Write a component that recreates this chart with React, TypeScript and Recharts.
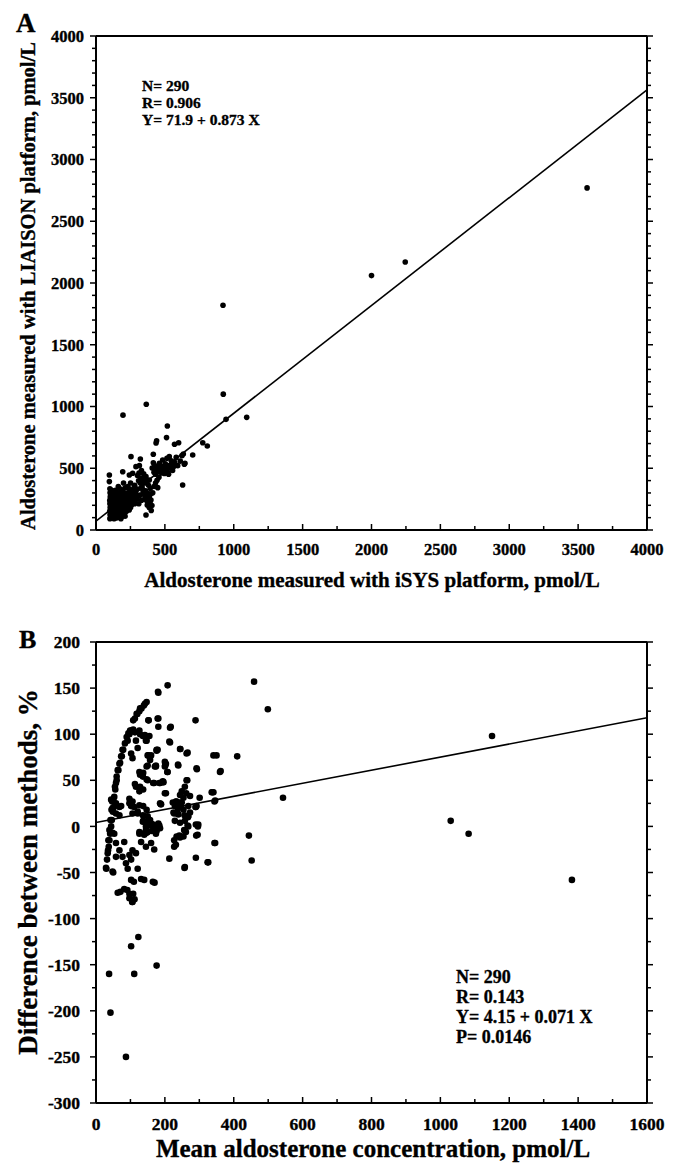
import React from 'react';
import { ScatterChart, Scatter, XAxis, YAxis, ReferenceLine } from 'recharts';

const FONT = '"Liberation Serif", "Times New Roman", serif';

// Panel A: aldosterone by iSYS (x) vs LIAISON (y), pmol/L
const isysVsLiaison: [number, number][] = [
  [3565, 2770], [2245, 2170], [2000, 2060], [922, 1820], [924, 1100], [944, 896], [1094, 912], [196, 930], [365, 1018],
  [518, 842], [512, 748], [440, 723], [436, 705], [600, 707], [570, 694], [775, 707], [808, 680], [702, 607], [634, 615],
  [646, 540], [624, 602], [641, 532], [629, 364], [363, 121], [254, 594], [416, 613], [515, 580], [532, 594], [484, 567],
  [460, 540], [416, 545], [322, 575], [315, 521], [290, 513], [97, 445], [97, 392], [194, 472], [242, 445], [266, 459],
  [363, 432], [387, 405], [448, 343], [387, 270], [399, 243], [121, 108], [182, 108],
  [330, 482], [346, 455], [358, 428], [372, 396], [381, 362], [394, 338], [408, 502], [421, 468], [426, 521], [433, 452],
  [441, 488], [447, 512], [452, 474], [457, 428], [466, 503], [472, 518], [476, 462], [483, 492], [491, 509], [497, 458],
  [503, 536], [507, 478], [512, 501], [521, 468], [527, 452], [533, 522], [541, 503], [546, 561], [552, 538], [556, 482],
  [563, 512], [571, 549], [582, 588], [593, 521], [612, 558], [301, 441], [309, 398], [322, 381], [334, 352], [342, 302],
  [351, 288], [356, 262], [367, 238], [372, 203], [386, 182], [392, 221], [401, 158], [406, 198], [412, 301], [421, 352],
  [432, 381], [443, 402], [302, 331], [288, 298], [281, 362], [271, 318], [286, 268], [299, 252], [311, 212], [319, 282],
  [331, 241], [339, 328], [352, 381], [361, 318], [376, 298], [382, 262], [396, 291], [344, 412], [312, 462], [326, 421],
  [101, 92], [102, 124], [100, 151], [103, 183], [101, 212], [100, 238], [104, 271], [102, 302], [101, 334], [106, 101],
  [107, 137], [105, 166], [108, 197], [106, 226], [105, 257], [107, 288], [111, 112], [112, 141], [110, 172], [113, 203],
  [111, 231], [112, 262], [110, 293], [114, 322], [116, 96], [117, 127], [115, 158], [118, 186], [116, 217], [117, 247],
  [115, 277], [121, 103], [122, 131], [120, 162], [123, 192], [121, 221], [122, 252], [126, 117], [127, 146], [125, 177],
  [128, 207], [126, 236], [127, 266], [125, 297], [131, 91], [132, 122], [130, 152], [133, 181], [131, 212], [132, 242],
  [136, 107], [137, 136], [135, 167], [138, 196], [136, 227], [137, 256], [141, 117], [142, 147], [140, 176], [143, 206],
  [141, 281], [142, 321], [146, 97], [147, 126], [145, 157], [148, 186], [146, 216], [147, 247], [151, 111], [152, 142],
  [150, 171], [153, 201], [151, 232], [152, 261], [150, 302], [156, 121], [157, 152], [155, 181], [158, 212], [156, 241],
  [161, 132], [162, 161], [160, 191], [163, 222], [161, 251], [162, 352], [166, 102], [167, 146], [165, 177], [168, 206],
  [166, 237], [167, 272], [171, 122], [172, 156], [170, 186], [173, 217], [171, 246], [172, 302], [176, 141], [177, 172],
  [175, 201], [178, 232], [176, 262], [177, 331], [181, 92], [182, 151], [180, 182], [183, 211], [181, 242], [182, 281],
  [186, 131], [187, 166], [185, 196], [188, 226], [186, 257], [191, 112], [192, 146], [190, 177], [193, 206], [191, 237],
  [192, 271], [190, 322], [196, 161], [197, 191], [195, 222], [198, 252], [201, 131], [202, 171], [200, 201], [203, 232],
  [201, 262], [202, 302], [200, 381], [206, 151], [207, 186], [205, 216], [208, 246], [211, 112], [212, 171], [210, 202],
  [213, 231], [211, 272], [212, 341], [216, 191], [217, 222], [215, 251], [221, 152], [222, 181], [220, 212], [223, 241],
  [221, 291], [226, 201], [227, 232], [225, 262], [231, 172], [232, 216], [230, 247], [233, 281], [231, 352], [236, 191],
  [237, 232], [235, 302], [241, 162], [242, 211], [240, 252], [243, 331], [246, 241], [247, 271], [251, 181], [252, 222],
  [250, 262], [253, 302], [251, 381], [256, 202], [257, 281], [261, 242], [262, 322], [266, 212], [267, 262], [271, 232],
  [272, 291], [276, 252], [277, 341], [281, 212], [282, 282], [286, 242], [291, 322], [296, 272],
];

// Panel B: mean of both methods (x, pmol/L) vs difference between methods (y, %)
const meanVsDiff: [number, number][] = [
  [29, -45], [32, -36], [35, -26], [36, -15], [39, -4], [42, 7], [45, 18], [50, 29], [55, 43], [60, 50], [65, 61],
  [70, 69], [75, 76], [79, 83], [84, 90], [89, 97], [94, 101], [101, 103], [108, 105], [113, 117], [120, 122], [126, 125],
  [132, 128], [139, 131], [147, 135], [50, -50],
  [208, 153], [181, 145], [153, 115], [179, 117], [181, 108], [102, 104], [97, 100], [92, 93], [126, 104], [136, 98],
  [145, 93], [155, 98], [213, 92], [116, 93], [121, 85], [77, 83], [73, 76], [68, 68], [63, 61], [60, 54], [58, 47],
  [56, 40], [53, 32], [102, 79], [106, 74], [150, 77], [160, 77], [179, 83], [174, 65], [150, 66], [203, 68], [208, 59],
  [126, 59], [136, 54], [150, 50], [169, 47], [184, 47], [194, 49], [116, 43], [126, 38], [203, 36], [97, 30], [106, 27],
  [102, 22], [58, 25], [73, 22], [58, 14], [44, 29], [48, 20], [46, 7], [189, 24], [223, 26], [121, 14], [136, 12],
  [145, 5], [155, 1], [145, -4], [169, -1], [126, -6], [140, -9], [44, 0], [48, -7],
  [47, 27], [52, 21], [49, 16], [41, -8], [39, -15], [37, -22], [34, -29], [30, -46], [48, -49], [68, 21], [68, 12],
  [97, 25], [111, 21], [126, 23], [106, 14], [121, 16], [232, 27], [247, 21], [237, 14], [257, 12], [290, 21], [344, 27],
  [136, 5], [150, 11], [145, 0], [160, 3], [184, 1], [126, -8], [150, -6], [174, -8], [82, -17], [106, -26], [116, -29],
  [131, -17], [145, -22], [160, -18], [169, -25], [53, -8], [58, -18], [68, -26], [77, -33], [58, -33], [97, -31],
  [87, -40], [92, -46], [102, -36], [121, -46], [102, -58], [131, -57], [165, -60], [63, -72], [82, -68], [97, -73],
  [105, -82], [97, -78], [213, -35], [257, -45], [290, -34], [324, -39], [295, -9], [290, 2], [344, -18], [261, -6],
  [266, 1], [227, -15], [232, -20], [242, -10],
  [289, 115], [152, 115], [215, 107], [108, 115], [118, 122], [128, 128], [142, 133], [99, 104], [113, 102], [128, 100],
  [142, 99], [147, 93], [215, 91], [244, 84], [263, 79], [176, 83], [341, 77], [350, 77], [410, 76], [152, 77], [157, 72],
  [200, 70], [200, 65], [239, 66], [292, 63], [360, 59], [171, 65], [147, 65], [137, 58], [128, 56], [147, 51], [113, 46],
  [128, 43], [137, 40], [166, 47], [186, 47], [196, 48], [263, 50], [258, 43], [249, 38], [244, 34], [254, 31], [200, 36],
  [341, 37], [346, 28], [292, 22], [234, 27], [244, 26], [229, 22], [239, 20], [254, 18], [225, 15], [239, 13], [229, 6],
  [244, 4], [268, 22], [273, 15], [268, 11], [186, 25], [273, 33], [297, 2], [268, 0], [258, -5], [234, -11], [254, -11],
  [137, 22], [147, 18], [157, 7], [166, 2], [181, 3], [186, -2], [137, 6], [128, -7], [147, -7], [162, -5], [176, -5],
  [180, 146], [217, 108], [181, 117], [245, 84], [266, 80], [238, 67], [293, 62], [201, 66], [176, 82], [174, 66],
  [207, 59], [194, 48], [265, 50], [262, 36], [336, 37], [301, 31], [289, 21], [249, 26], [238, 20], [227, 14], [188, 24],
  [267, 10], [296, 0], [291, -10], [258, 6], [256, -4], [244, -12], [227, -22], [258, -44], [326, -39],
  [459, 157], [499, 127], [1150, 98], [1030, 6], [1082, -8], [1382, -58], [543, 31], [444, -10], [452, -37], [362, 60],
  [338, 37], [346, -18],
  [38, -160], [42, -202], [87, -250], [111, -160], [102, -130], [123, -120], [176, -151], [71, -71], [91, -69],
  [108, -73], [112, -79], [106, -82], [110, -60], [140, -58], [170, -61],
];

const aXLabels = [0, 500, 1000, 1500, 2000, 2500, 3000, 3500, 4000];
const aYLabels = [0, 500, 1000, 1500, 2000, 2500, 3000, 3500, 4000];
const bXLabels = [0, 200, 400, 600, 800, 1000, 1200, 1400, 1600];
const bYLabels = [-300, -250, -200, -150, -100, -50, 0, 50, 100, 150, 200];

const aFit = { n: 290, r: 0.906, intercept: 71.9, slope: 0.873 };
const bFit = { n: 290, r: 0.143, intercept: 4.15, slope: 0.071, p: 0.0146 };

// minor tick positions
const steps = (from: number, to: number, step: number) =>
  Array.from({ length: Math.round((to - from) / step) + 1 }, (_, i) => from + i * step);

const toPoints = (rows: [number, number][]) => rows.map(([x, y]) => ({ x, y }));

const txt = { fontFamily: FONT, fontWeight: 'bold' as const, fill: '#000', stroke: '#000', strokeWidth: 0.35 };

type Side = 'bottom' | 'top' | 'left' | 'right';

const makeTick = (side: Side, majors: number[], showLabels: boolean, fontSize: number, gap: number) =>
  (props: any) => {
    const { x, y, payload } = props;
    const v = payload.value;
    const major = majors.includes(v);
    const len = major ? 6 : 4;
    const st = { stroke: '#000', strokeWidth: 1.5 };
    let tickLine;
    let label = null;
    if (side === 'bottom') {
      tickLine = <line x1={x} x2={x} y1={y - len} y2={y} {...st} />;
      if (showLabels && major)
        label = (
          <text x={x} y={y + gap} textAnchor="middle" fontSize={fontSize} {...txt}>
            {v}
          </text>
        );
    } else if (side === 'top') {
      tickLine = <line x1={x} x2={x} y1={y - len + 1} y2={y} {...st} />;
    } else if (side === 'left') {
      tickLine = <line x1={x - len} x2={x + 1} y1={y} y2={y} {...st} />;
      if (showLabels && major)
        label = (
          <text x={x - gap} y={y} dy="0.35em" textAnchor="end" fontSize={fontSize} {...txt}>
            {v}
          </text>
        );
    } else {
      tickLine = <line x1={x - 1} x2={x + len} y1={y} y2={y} {...st} />;
    }
    return (
      <g>
        {tickLine}
        {label}
      </g>
    );
  };

const dotA = (p: any) => <circle cx={p.cx} cy={p.cy} r={2.8} fill="#000" />;
const dotB = (p: any) => <circle cx={p.cx} cy={p.cy} r={3.3} fill="#000" />;

const axisLine = { stroke: '#000', strokeWidth: 2 };

export default function App() {
  const aLine = [
    { x: 0, y: aFit.intercept },
    { x: 4000, y: aFit.intercept + aFit.slope * 4000 },
  ];
  const bLine = [
    { x: 0, y: bFit.intercept },
    { x: 1600, y: bFit.intercept + bFit.slope * 1600 },
  ];

  return (
    <div style={{ position: 'absolute', left: 0, top: 0, width: 678, height: 1165, background: '#fff' }}>
      <div style={{ position: 'absolute', left: 0, top: 0 }}>
        <ScatterChart width={678} height={600} margin={{ top: 35, right: 30, bottom: 0, left: 0 }}>
          <XAxis
            type="number" dataKey="x" domain={[0, 4000]} ticks={steps(0, 4000, 250)} interval={0}
            height={70} tickSize={0} tickMargin={0} tickLine={false} axisLine={axisLine}
            tick={makeTick('bottom', aXLabels, true, 16.5, 25)}
          />
          <XAxis
            xAxisId="top" orientation="top" type="number" domain={[0, 4000]} allowDataOverflow ticks={aXLabels} interval={0}
            height={1} tickSize={0} tickMargin={0} tickLine={false} axisLine={axisLine}
            tick={makeTick('top', aXLabels, false, 16, 0)}
          />
          <YAxis
            type="number" dataKey="y" domain={[0, 4000]} ticks={steps(0, 4000, 100)} interval={0}
            width={96} tickSize={0} tickMargin={0} tickLine={false} axisLine={axisLine}
            tick={makeTick('left', aYLabels, true, 16.5, 12)}
          />
          <YAxis
            yAxisId="right" orientation="right" type="number" domain={[0, 4000]} allowDataOverflow ticks={steps(0, 4000, 100)} interval={0}
            width={1} tickSize={0} tickMargin={0} tickLine={false} axisLine={axisLine}
            tick={makeTick('right', aYLabels, false, 16, 0)}
          />
          <ReferenceLine segment={aLine} stroke="#000" strokeWidth={1.6} />
          <Scatter data={toPoints(isysVsLiaison)} shape={dotA} isAnimationActive={false} />
        </ScatterChart>
      </div>
      <div style={{ position: 'absolute', left: 0, top: 600 }}>
        <ScatterChart width={678} height={565} margin={{ top: 41, right: 30, bottom: 0, left: 0 }}>
          <XAxis
            type="number" dataKey="x" domain={[0, 1600]} ticks={steps(0, 1600, 100)} interval={0}
            height={62} tickSize={0} tickMargin={0} tickLine={false} axisLine={axisLine}
            tick={makeTick('bottom', bXLabels, true, 17.5, 27)}
          />
          <XAxis
            xAxisId="top" orientation="top" type="number" domain={[0, 1600]} allowDataOverflow ticks={steps(0, 1600, 100)} interval={0}
            height={1} tickSize={0} tickMargin={0} tickLine={false} axisLine={axisLine}
            tick={makeTick('top', bXLabels, false, 17, 0)}
          />
          <YAxis
            type="number" dataKey="y" domain={[-300, 200]} ticks={steps(-300, 200, 25)} interval={0}
            width={96} tickSize={0} tickMargin={0} tickLine={false} axisLine={axisLine}
            tick={makeTick('left', bYLabels, true, 17.5, 16)}
          />
          <YAxis
            yAxisId="right" orientation="right" type="number" domain={[-300, 200]} allowDataOverflow ticks={steps(-300, 200, 25)} interval={0}
            width={1} tickSize={0} tickMargin={0} tickLine={false} axisLine={axisLine}
            tick={makeTick('right', bYLabels, false, 17, 0)}
          />
          <ReferenceLine segment={bLine} stroke="#000" strokeWidth={1.6} />
          <Scatter data={toPoints(meanVsDiff)} shape={dotB} isAnimationActive={false} />
        </ScatterChart>
      </div>
      <svg width={678} height={1165} style={{ position: 'absolute', left: 0, top: 0, pointerEvents: 'none' }}>
        <text x={16} y={32} fontSize={27} {...txt}>A</text>
        <text x={19} y={648} fontSize={26} {...txt}>B</text>
        <text transform="translate(35,286) rotate(-90)" textAnchor="middle" fontSize={20.5} {...txt}>
          Aldosterone measured with LIAISON platform, pmol/L
        </text>
        <text x={372} y={587} textAnchor="middle" fontSize={21} {...txt}>
          Aldosterone measured with iSYS platform, pmol/L
        </text>
        <text x={142} y={91} fontSize={15.5} {...txt}>N= {aFit.n}</text>
        <text x={142} y={108} fontSize={15.5} {...txt}>R= {aFit.r}</text>
        <text x={142} y={125} fontSize={15.5} {...txt}>Y= {aFit.intercept} + {aFit.slope} X</text>
        <text transform="translate(37,872) rotate(-90)" textAnchor="middle" fontSize={27} {...txt}>
          Difference between methods, %
        </text>
        <text x={373} y={1157} textAnchor="middle" fontSize={25} {...txt}>
          Mean aldosterone concentration, pmol/L
        </text>
        <text x={456} y={983} fontSize={18} {...txt}>N= {bFit.n}</text>
        <text x={456} y={1003} fontSize={18} {...txt}>R= {bFit.r}</text>
        <text x={456} y={1023} fontSize={18} {...txt}>Y= {bFit.intercept} + {bFit.slope} X</text>
        <text x={456} y={1043} fontSize={18} {...txt}>P= {bFit.p}</text>
      </svg>
    </div>
  );
}
